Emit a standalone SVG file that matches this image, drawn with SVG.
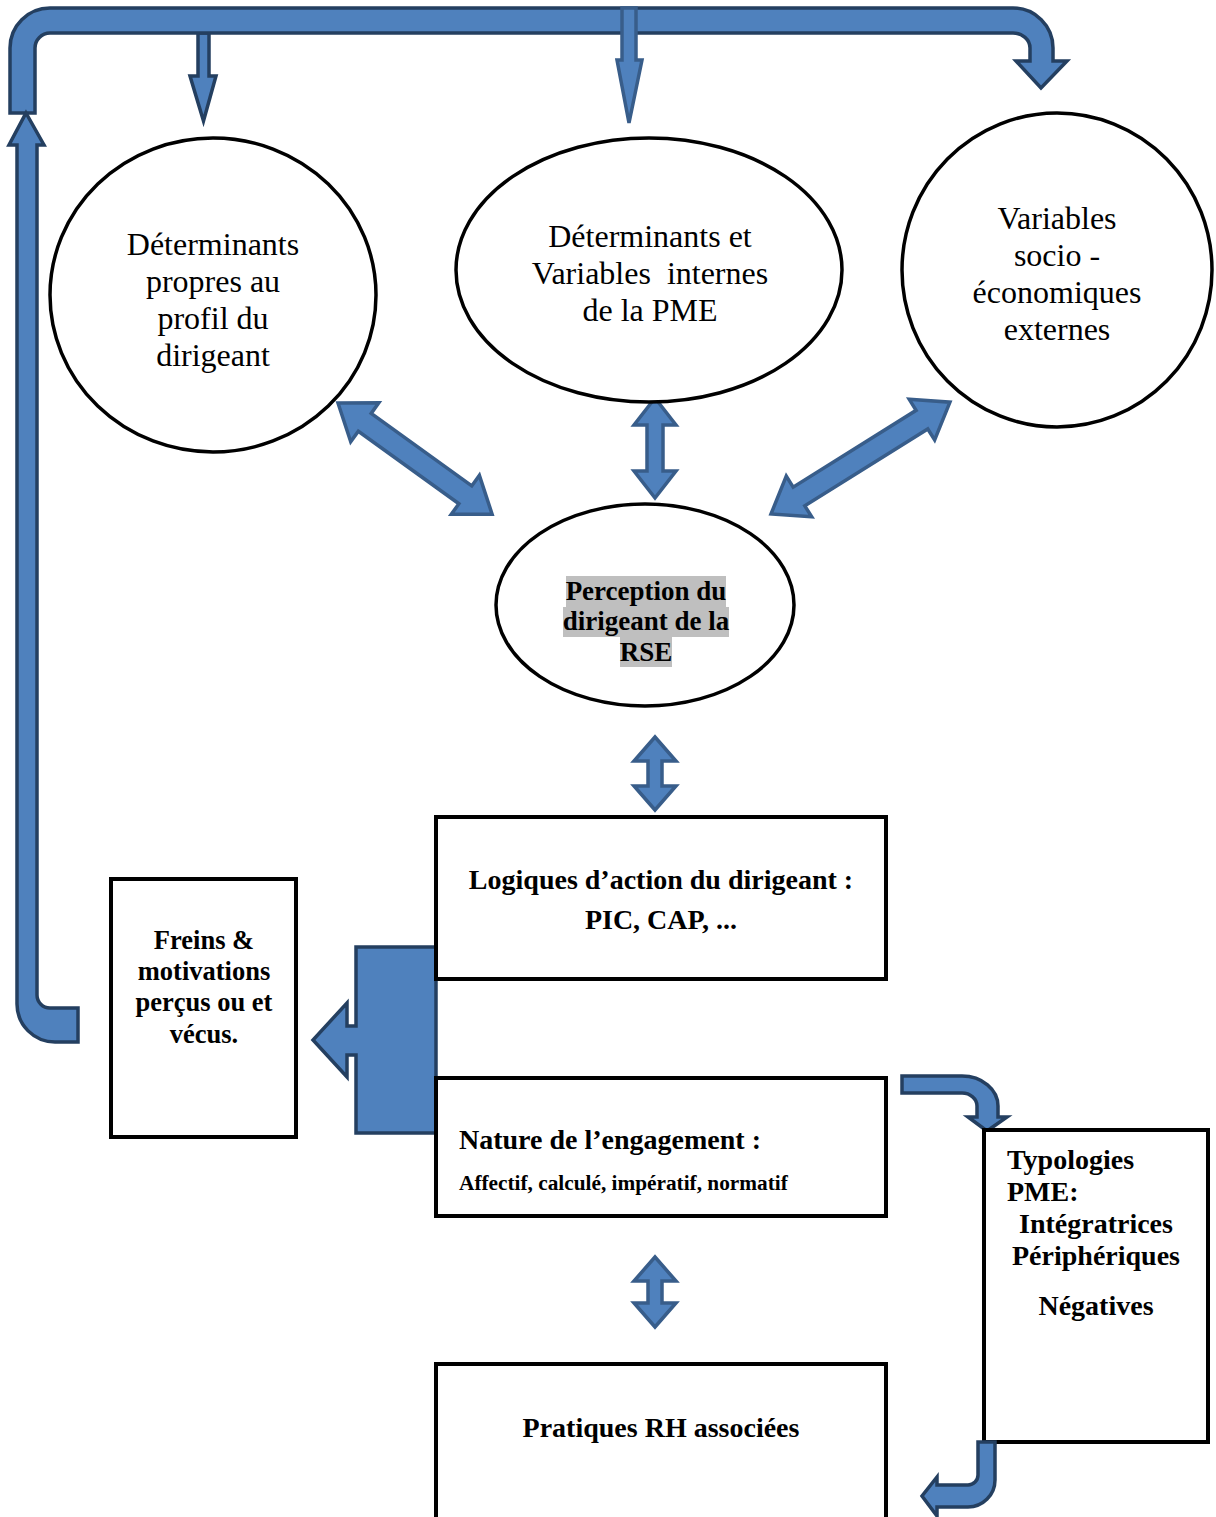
<svg xmlns="http://www.w3.org/2000/svg" width="1216" height="1517" viewBox="0 0 1216 1517">
<style>
.bg{fill:#ffffff}
.ell{fill:#ffffff;stroke:#000000;stroke-width:3.5}
.box{fill:#ffffff;stroke:#000000;stroke-width:4}
.arr{fill:#4F81BD;stroke:#243F60;stroke-width:3.5;stroke-linejoin:miter}
.arr2{fill:#4F81BD;stroke:#385D8A;stroke-width:3.5;stroke-linejoin:miter}
.t{font-family:"Liberation Serif","Times New Roman",serif;fill:#000000}
.n{font-size:32px;text-anchor:middle}
.b{font-weight:bold}
.hl{fill:#BFBFBF}
</style>
<rect class="bg" x="0" y="0" width="1216" height="1517"/>

<g id="connectors">
  <path class="arr" d="M 198,33 L 209,33 L 209,76 L 216,76 L 203.5,121 L 190,76 L 198,76 Z"/>
  <path class="arr" d="M 10,113 L 10,48 A 40,40 0 0 1 50,8 L 1013,8 A 40,40 0 0 1 1053,48 L 1053,61 L 1067,61 L 1041,88 L 1016,61 L 1030,61 L 1030,48 A 17,15 0 0 0 1013,33 L 50,33 A 15,15 0 0 0 35,48 L 35,113 Z"/>
  <path class="arr2" d="M 622,8 L 636,8 L 636,60 L 642,60 L 629,123 L 617,60 L 622,60 Z"/>
  <path class="arr" d="M 26,113 L 44,145 L 37,145 L 37,995 A 13,13 0 0 0 50,1008 L 78,1008 L 78,1042 L 55,1042 A 38,38 0 0 1 17,1004 L 17,145 L 9,145 Z"/>
  <path class="arr2" transform="translate(338,403) rotate(35.8)" d="M 0,0 L 33,-24 L 33,-11 L 157,-11 L 157,-24 L 190,0 L 157,24 L 157,11 L 33,11 L 33,24 Z"/>
  <path class="arr2" transform="translate(771,514) rotate(-32)" d="M 0,0 L 33,-24 L 33,-11 L 178,-11 L 178,-24 L 211,0 L 178,24 L 178,11 L 33,11 L 33,24 Z"/>
  <path class="arr2" transform="translate(655,398) rotate(90)" d="M 0,0 L 27,-21 L 27,-8 L 73,-8 L 73,-21 L 100,0 L 73,21 L 73,8 L 27,8 L 27,21 Z"/>
  <path class="arr2" transform="translate(655,737) rotate(90)" d="M 0,0 L 24,-21 L 24,-7 L 49,-7 L 49,-21 L 73,0 L 49,21 L 49,7 L 24,7 L 24,21 Z"/>
  <path class="arr2" transform="translate(655,1257) rotate(90)" d="M 0,0 L 24,-21 L 24,-7 L 46,-7 L 46,-21 L 70,0 L 46,21 L 46,7 L 24,7 L 24,21 Z"/>
  <path class="arr" d="M 436,947 L 356,947 L 356,1026 L 347,1026 L 347,1003 L 313,1040 L 347,1077 L 347,1055 L 356,1055 L 356,1133 L 436,1133 Z"/>
  <path class="arr" d="M 902,1076 L 962,1076 A 36,30 0 0 1 998,1106 L 998,1117 L 1007,1117 L 987,1131 L 968,1117 L 977,1117 L 977,1106 A 15,13 0 0 0 962,1093 L 902,1093 Z"/>
</g>

<g id="node-profil">
  <ellipse class="ell" cx="213" cy="295" rx="163" ry="157"/>
  <text class="t n" x="213" y="255">Déterminants</text>
  <text class="t n" x="213" y="292">propres au</text>
  <text class="t n" x="213" y="329">profil du</text>
  <text class="t n" x="213" y="366">dirigeant</text>
</g>

<g id="node-internes">
  <ellipse class="ell" cx="649" cy="270" rx="193" ry="132"/>
  <text class="t n" x="650" y="247">Déterminants et</text>
  <text class="t n" x="650" y="284" xml:space="preserve">Variables  internes</text>
  <text class="t n" x="650" y="321">de la PME</text>
</g>

<g id="node-externes">
  <ellipse class="ell" cx="1057" cy="270" rx="155" ry="157"/>
  <text class="t n" x="1057" y="229">Variables</text>
  <text class="t n" x="1057" y="266">socio -</text>
  <text class="t n" x="1057" y="303">économiques</text>
  <text class="t n" x="1057" y="340">externes</text>
</g>

<g id="node-perception">
  <ellipse class="ell" cx="645" cy="605" rx="149" ry="101"/>
  <rect class="hl" x="566" y="576" width="160" height="31"/>
  <rect class="hl" x="563" y="607" width="166" height="30"/>
  <rect class="hl" x="620" y="637" width="52" height="30"/>
  <text class="t b" x="646" y="600" font-size="27" text-anchor="middle">Perception du</text>
  <text class="t b" x="646" y="630" font-size="27" text-anchor="middle">dirigeant de la</text>
  <text class="t b" x="646" y="661" font-size="27" text-anchor="middle">RSE</text>
</g>

<g id="node-logiques">
  <rect class="box" x="436" y="817" width="450" height="162"/>
  <text class="t b" x="661" y="889" font-size="28" text-anchor="middle">Logiques d’action du dirigeant :</text>
  <text class="t b" x="661" y="929" font-size="28" text-anchor="middle">PIC, CAP, ...</text>
</g>

<g id="node-freins">
  <rect class="box" x="111" y="879" width="185" height="258"/>
  <text class="t b" x="204" y="949" font-size="26.5" text-anchor="middle">Freins &amp;</text>
  <text class="t b" x="204" y="980" font-size="26.5" text-anchor="middle">motivations</text>
  <text class="t b" x="204" y="1011" font-size="26.5" text-anchor="middle">perçus ou et</text>
  <text class="t b" x="204" y="1043" font-size="26.5" text-anchor="middle">vécus.</text>
</g>

<g id="node-nature">
  <rect class="box" x="436" y="1078" width="450" height="138"/>
  <text class="t b" x="459" y="1149" font-size="28">Nature de l’engagement :</text>
  <text class="t b" x="459" y="1190" font-size="21.3">Affectif, calculé, impératif, normatif</text>
</g>

<g id="node-typologies">
  <rect class="box" x="984" y="1130" width="224" height="312"/>
  <text class="t b" x="1007" y="1169" font-size="28">Typologies</text>
  <text class="t b" x="1007" y="1201" font-size="28">PME:</text>
  <text class="t b" x="1019" y="1233" font-size="28">Intégratrices</text>
  <text class="t b" x="1096" y="1265" font-size="28" text-anchor="middle">Périphériques</text>
  <text class="t b" x="1096" y="1315" font-size="28" text-anchor="middle">Négatives</text>
</g>

<g id="node-pratiques">
  <rect class="box" x="436" y="1364" width="450" height="170"/>
  <text class="t b" x="661" y="1437" font-size="28" text-anchor="middle">Pratiques RH associées</text>
</g>

<g id="connector-bottom">
  <path class="arr" d="M 978,1442 L 995,1442 L 995,1480 A 27,27 0 0 1 968,1507 L 937,1507 L 937,1516 L 922,1496 L 937,1477 L 937,1485 L 968,1485 A 10,10 0 0 0 978,1475 Z"/>
</g>
</svg>
